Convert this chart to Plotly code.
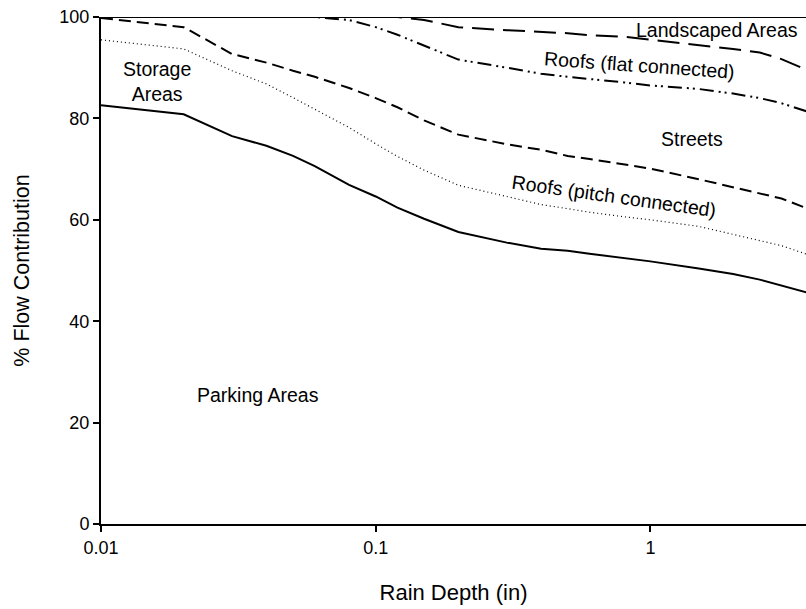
import plotly.graph_objects as go

# Rain depth (in)
rain = [0.01, 0.02, 0.03, 0.04, 0.05, 0.06, 0.08, 0.1, 0.12, 0.15, 0.2,
        0.3, 0.4, 0.5, 0.6, 0.8, 1.0, 1.5, 2.0, 2.5, 3.0, 4.0]

# Cumulative % flow contribution (upper boundary of each source area)
parking = [82.6, 80.8, 76.5, 74.6, 72.6, 70.6, 66.9, 64.6, 62.4, 60.2, 57.6,
           55.5, 54.3, 53.9, 53.3, 52.5, 51.8, 50.4, 49.3, 48.2, 47.1, 45.2]
storage = [95.5, 93.7, 89.4, 86.8, 84.1, 81.8, 78.2, 75.0, 72.5, 69.8, 66.8,
           64.6, 63.0, 62.2, 61.5, 60.6, 60.0, 58.7, 57.2, 55.9, 54.9, 52.6]
roofs_pitch = [99.8, 98.0, 92.7, 91.0, 89.4, 88.2, 86.0, 84.0, 82.2, 79.6, 76.8,
               74.9, 73.8, 72.6, 72.0, 71.0, 70.1, 68.0, 66.4, 65.3, 64.2, 61.6]
streets = [100.0, 100.0, 100.0, 100.0, 100.0, 100.0, 99.4, 98.0, 96.5, 94.4, 91.6,
           90.0, 88.8, 88.2, 87.8, 87.1, 86.5, 85.8, 84.9, 84.0, 83.0, 80.8]
roofs_flat = [100.0, 100.0, 100.0, 100.0, 100.0, 100.0, 100.0, 100.0, 100.0, 99.4, 98.0,
              97.4, 97.1, 96.8, 96.4, 96.1, 95.5, 94.5, 93.7, 93.0, 91.7, 88.8]
landscaped = [100.0] * len(rain)

x_ticks = [0.01, 0.1, 1]
x_tick_labels = ["0.01", "0.1", "1"]
y_ticks = [0, 20, 40, 60, 80, 100]

labels = ["Landscaped Areas", "Roofs (flat connected)", "Streets",
          "Roofs (pitch connected)", "Storage<br>Areas", "Parking Areas"]
label_x = [0.243, -0.040, 0.153, -0.131, -1.795, -1.427]   # log10 of rain depth
label_y = [97.5, 90.6, 76.0, 64.6, 87.3, 25.5]
label_angle = [0, 4, 0, 8, 0, 0]

FONT = "Liberation Sans, Arial, sans-serif"

fig = go.Figure()
series = [
    (landscaped, dict(color="black", width=2)),
    (roofs_flat, dict(color="black", width=2, dash="22px,9px")),
    (streets, dict(color="black", width=2, dash="14px,5px,2px,4px,2px,5px")),
    (roofs_pitch, dict(color="black", width=2, dash="12px,6px")),
    (storage, dict(color="black", width=1.2, dash="1px,3px")),
    (parking, dict(color="black", width=2)),
]
for ys, line in series:
    fig.add_trace(go.Scatter(x=rain, y=ys, mode="lines", line=line,
                             showlegend=False, hoverinfo="skip"))

for t, lx, ly, a in zip(labels, label_x, label_y, label_angle):
    fig.add_annotation(x=lx, y=ly, xref="x", yref="y", text=t, showarrow=False,
                       textangle=a, font=dict(family=FONT, size=19.5, color="black"))

fig.update_layout(
    width=806, height=609,
    margin=dict(l=101, r=0, t=17, b=85),
    paper_bgcolor="white", plot_bgcolor="white",
    font=dict(family=FONT, size=18, color="black"),
)
fig.update_xaxes(
    type="log", range=[-2, -2 + 705 / 274.7],
    tickvals=x_ticks, ticktext=x_tick_labels,
    showgrid=False, zeroline=False,
    showline=True, linecolor="black", linewidth=2,
    ticks="outside", ticklen=6, tickwidth=2, tickcolor="black",
    title=dict(text="Rain Depth (in)", font=dict(family=FONT, size=22), standoff=28),
)
fig.update_yaxes(
    range=[0, 100], tickvals=y_ticks,
    showgrid=False, zeroline=False,
    showline=True, linecolor="black", linewidth=2,
    ticks="outside", ticklen=6, tickwidth=2, tickcolor="black",
    title=dict(text="% Flow Contribution", font=dict(family=FONT, size=21.5), standoff=24),
)

fig.write_html("out.html")
